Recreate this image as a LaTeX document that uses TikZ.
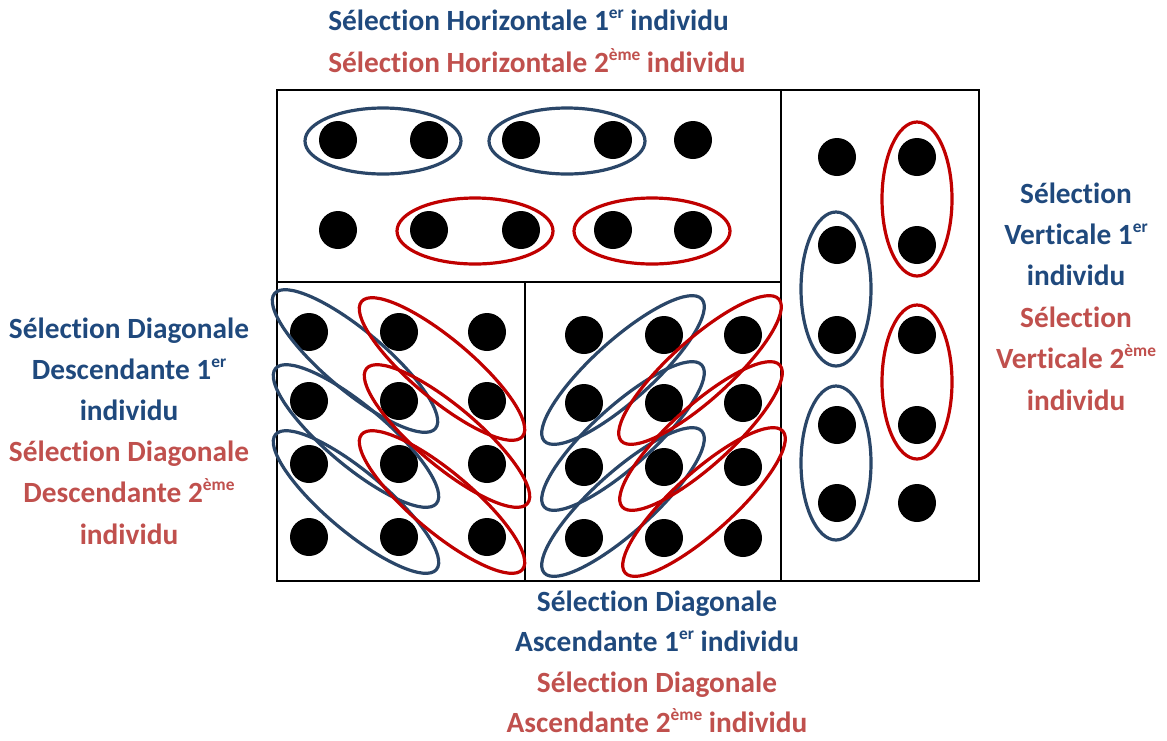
\documentclass[tikz,border=0pt]{standalone}
\usepackage{fontspec}
\setmainfont[Ligatures=NoCommon]{Carlito}
\definecolor{txtblue}{HTML}{1F497D}
\definecolor{txtred}{HTML}{C0504D}
\definecolor{selblue}{HTML}{2A4668}
\definecolor{selred}{HTML}{C00000}
\newcommand\supx[1]{\raisebox{9pt}{\fontsize{13}{13}\selectfont #1}}
\tikzset{
  frame/.style={draw=black, line width=1.8pt},
  dot/.style={fill=black},
  bsel/.style={draw=selblue, line width=2.4pt},
  rsel/.style={draw=selred, line width=2.4pt},
  lbl/.style={anchor=base, inner sep=0pt, font=\fontsize{22}{26}\selectfont\bfseries},
  lblw/.style={lbl, anchor=base west},
}
\begin{document}
\begin{tikzpicture}[x=0.75pt, y=-0.75pt]
\useasboundingbox (0,0) rectangle (1167,740);

% panel frames
\draw[frame] (277,90) rectangle (979,581);
\draw[frame] (277,282) -- (781,282);
\draw[frame] (781,90) -- (781,581);
\draw[frame] (525,282) -- (525,581);

% horizontal panel
\foreach \x in {338,429,521,613,693} {
  \fill[dot] (\x,140) circle [radius=19];
  \fill[dot] (\x,230) circle [radius=19];
}
\draw[bsel] (383,141) ellipse [x radius=78, y radius=33];
\draw[bsel] (567,141) ellipse [x radius=78, y radius=33];
\draw[rsel] (475,231) ellipse [x radius=78, y radius=33];
\draw[rsel] (652,231) ellipse [x radius=78, y radius=33];

% vertical panel
\foreach \y in {157,245,335,425,503} {
  \fill[dot] (837,\y) circle [radius=19];
  \fill[dot] (917,\y) circle [radius=19];
}
\draw[bsel] (836,289) ellipse [x radius=35, y radius=77];
\draw[bsel] (836,463) ellipse [x radius=35, y radius=77];
\draw[rsel] (917,199) ellipse [x radius=35, y radius=77];
\draw[rsel] (917,382) ellipse [x radius=35, y radius=77];

% descending diagonal panel
\foreach \x in {309,399,487} \foreach \y in {332,401,464,537}
  \fill[dot] (\x,\y) circle [radius=19];
\foreach \c in {(355,361),(356,436),(356,502)}
  \draw[bsel, rotate around={-40:\c}] \c ellipse [x radius=105, y radius=30];
\foreach \c in {(442,369),(447,436),(442,502)}
  \draw[rsel, rotate around={-40:\c}] \c ellipse [x radius=105, y radius=30];

% ascending diagonal panel
\foreach \x in {584,664,743} \foreach \y in {335,403,467,538}
  \fill[dot] (\x,\y) circle [radius=19];
\foreach \c in {(623,370),(623,436),(623,502)}
  \draw[bsel, rotate around={42:\c}] \c ellipse [x radius=106, y radius=30];
\foreach \c in {(700,370),(701,436),(704,502)}
  \draw[rsel, rotate around={42:\c}] \c ellipse [x radius=106, y radius=30];

% labels: horizontal
\node[lblw, txtblue] (h1) at (328,30) {Sélection Horizontale 1\supx{er} individu};
\node[lblw, txtred]  (h2) at (328,72) {Sélection Horizontale 2\supx{ème} individu};

% labels: vertical
\node[lbl, txtblue] (v1) at (1076,203) {Sélection};
\node[lbl, txtblue] (v2) at (1076,244) {Verticale 1\supx{er}};
\node[lbl, txtblue] (v3) at (1076,285) {individu};
\node[lbl, txtred]  (v4) at (1076,327) {Sélection};
\node[lbl, txtred]  (v5) at (1076,368) {Verticale 2\supx{ème}};
\node[lbl, txtred]  (v6) at (1076,410) {individu};

% labels: descending diagonal
\node[lbl, txtblue] (d1) at (129,338) {Sélection Diagonale};
\node[lbl, txtblue] (d2) at (129,379) {Descendante 1\supx{er}};
\node[lbl, txtblue] (d3) at (129,420) {individu};
\node[lbl, txtred]  (d4) at (129,461) {Sélection Diagonale};
\node[lbl, txtred]  (d5) at (129,502) {Descendante 2\supx{ème}};
\node[lbl, txtred]  (d6) at (129,544) {individu};

% labels: ascending diagonal
\node[lbl, txtblue] (a1) at (657,611) {Sélection Diagonale};
\node[lbl, txtblue] (a2) at (657,651) {Ascendante 1\supx{er} individu};
\node[lbl, txtred]  (a3) at (657,692) {Sélection Diagonale};
\node[lbl, txtred]  (a4) at (657,732) {Ascendante 2\supx{ème} individu};
\end{tikzpicture}
\end{document}
